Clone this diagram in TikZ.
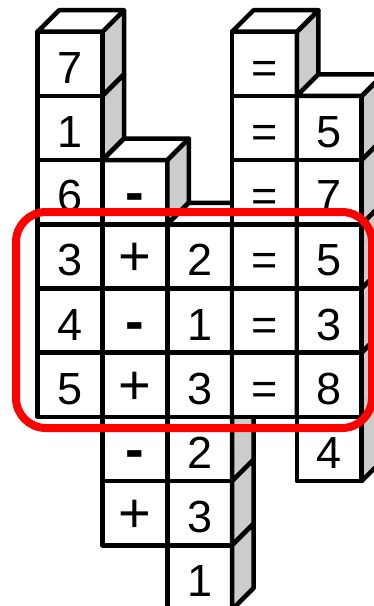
\documentclass[tikz,border=0pt]{standalone}
\usepackage{fontspec}
\setmainfont{Liberation Sans}

\begin{document}
\begin{tikzpicture}[x=1pt, y=-1pt, line join=round,
    face/.style={rectangle, draw, line width=4.5pt, fill=white, minimum width=64.8pt, minimum height=64.2pt,
                 inner sep=0pt, outer sep=0pt, text height=38.8pt, text depth=0pt},
    side/.style={draw, line width=4.5pt, fill=gray!40},
    lid/.style={draw, line width=4.5pt, fill=white},
    digit/.style={font=\fontsize{45}{45}\selectfont},
    opplus/.style={font=\fontsize{56}{56}\selectfont},
    opminus/.style={font=\fontsize{56}{56}\selectfont\bfseries},
    opeq/.style={font=\fontsize{45}{45}\selectfont},
    frame/.style={draw=red, line width=8pt, rounded corners=30pt},
    ]
    \useasboundingbox (0,0) rectangle (374,606);
    \clip (0,0) rectangle (374,606);

    % Column 1
    \foreach \t [count=\i from 0] in {7,1,6,3,4,5} {
        \node[face, digit] (a\i) at (70.1, {63.8+64.2*\i}) {\t};
        \path[side] (a\i.north east) -- ++(21.5,-21.5) -- ++(0,64.2) -- (a\i.south east) -- cycle;
    }
    \path[lid] (a0.north west) -- ++(21.5,-21.5) -- ++(64.8,0) -- (a0.north east) -- cycle;

    % Column 2
    \foreach \s/\t [count=\i from 2] in {opminus/-,opplus/+,opminus/-,opplus/+,opminus/-,opplus/+} {
        \node[face, \s] (b\i) at (134.9, {63.8+64.2*\i}) {\t};
        \path[side] (b\i.north east) -- ++(21.5,-21.5) -- ++(0,64.2) -- (b\i.south east) -- cycle;
    }
    \path[lid] (b2.north west) -- ++(21.5,-21.5) -- ++(64.8,0) -- (b2.north east) -- cycle;

    % Column 3
    \foreach \t [count=\i from 3] in {2,1,3,2,3,1} {
        \node[face, digit] (c\i) at (199.7, {63.8+64.2*\i}) {\t};
        \path[side] (c\i.north east) -- ++(21.5,-21.5) -- ++(0,64.2) -- (c\i.south east) -- cycle;
    }
    \path[lid] (c3.north west) -- ++(21.5,-21.5) -- ++(64.8,0) -- (c3.north east) -- cycle;

    % Column 4
    \foreach \t [count=\i from 0] in {=,=,=,=,=,=} {
        \node[face, opeq] (d\i) at (264.5, {63.8+64.2*\i}) {\t};
        \path[side] (d\i.north east) -- ++(21.5,-21.5) -- ++(0,64.2) -- (d\i.south east) -- cycle;
    }
    \path[lid] (d0.north west) -- ++(21.5,-21.5) -- ++(64.8,0) -- (d0.north east) -- cycle;

    % Column 5
    \foreach \t [count=\i from 1] in {5,7,5,3,8,4} {
        \node[face, digit] (e\i) at (329.3, {63.8+64.2*\i}) {\t};
        \path[side] (e\i.north east) -- ++(21.5,-21.5) -- ++(0,64.2) -- (e\i.south east) -- cycle;
    }
    \path[lid] (e1.north west) -- ++(21.5,-21.5) -- ++(64.8,0) -- (e1.north east) -- cycle;

    % Highlight
    \draw[frame] (16,212) rectangle (372,428);
\end{tikzpicture}
\end{document}
